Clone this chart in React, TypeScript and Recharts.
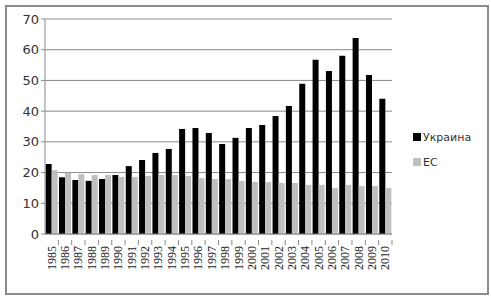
import { BarChart, Bar, XAxis, YAxis, CartesianGrid, Legend } from "recharts";

const years = [
  "1985", "1986", "1987", "1988", "1989", "1990", "1991", "1992", "1993",
  "1994", "1995", "1996", "1997", "1998", "1999", "2000", "2001", "2002",
  "2003", "2004", "2005", "2006", "2007", "2008", "2009", "2010",
];
const ukraine = [
  22.8, 18.5, 17.6, 17.3, 17.9, 19.2, 22.1, 24.1, 26.4, 27.7, 34.2, 34.5, 32.9,
  29.3, 31.3, 34.5, 35.5, 38.4, 41.7, 48.9, 56.7, 53.1, 58.0, 63.8, 51.8, 44.0,
];
const eu = [
  20.8, 19.9, 19.5, 19.2, 19.2, 18.6, 18.6, 18.9, 19.2, 19.2, 18.9, 18.2, 17.9,
  17.9, 17.3, 16.9, 16.9, 16.6, 16.6, 16.0, 16.0, 15.0, 16.0, 15.6, 15.6, 15.0,
];
const yTicks = [0, 10, 20, 30, 40, 50, 60, 70];

const data = years.map((y, i) => ({ year: y, ua: ukraine[i], eu: eu[i] }));

// rotated year label plus a small tick mark on the category boundary
const YearTick = (props: any) => {
  const { x, y, payload } = props;
  const half = payload?.offset ?? 6.7;
  return (
    <g>
      <line x1={x + half} x2={x + half} y1={y - 2} y2={y + 3} stroke="#8a8a8a" />
      <text
        x={x + 4}
        y={y + 4}
        transform={`rotate(-90 ${x + 4} ${y + 4})`}
        textAnchor="end"
        fontFamily="Liberation Serif"
        fontSize={12}
        fill="#222"
      >
        {payload.value}
      </text>
    </g>
  );
};

const LegendBox = () => (
  <div style={{ fontFamily: "DejaVu Sans", fontSize: 11, color: "#333" }}>
    <div style={{ display: "flex", alignItems: "center", height: 14 }}>
      <span style={{ width: 8, height: 8, background: "#000", marginRight: 2 }} />
      Украина
    </div>
    <div style={{ display: "flex", alignItems: "center", height: 14, marginTop: 11 }}>
      <span style={{ width: 8, height: 8, background: "#bfbfbf", marginRight: 2 }} />
      ЕС
    </div>
  </div>
);

export default function App() {
  return (
    <div style={{ position: "absolute", left: 0, top: 0, width: 491, height: 298, background: "#fff" }}>
      <div
        style={{
          position: "absolute",
          left: 5,
          top: 5,
          width: 480,
          height: 286,
          border: "2px solid #8c8c8c",
          boxSizing: "content-box",
        }}
      />
      <BarChart
        width={491}
        height={298}
        data={data}
        margin={{ top: 19, right: 21, left: 0, bottom: 0 }}
        barCategoryGap="5%"
        barGap={0}
      >
        <CartesianGrid vertical={false} stroke="#8a8a8a" strokeWidth={1} />
        <XAxis
          dataKey="year"
          height={64}
          interval={0}
          tick={<YearTick />}
          axisLine={{ stroke: "#8a8a8a" }}
          tickLine={false}
        />
        <YAxis
          width={45}
          domain={[0, 70]}
          ticks={yTicks}
          interval={0}
          tick={{ fontFamily: "DejaVu Sans", fontSize: 13, fill: "#333" }}
          axisLine={{ stroke: "#8a8a8a" }}
          tickLine={{ stroke: "#8a8a8a" }}
          tickSize={4}
        />
        <Legend
          layout="vertical"
          align="right"
          verticalAlign="middle"
          width={78}
          content={<LegendBox />}
          wrapperStyle={{ position: "absolute", left: 413, top: 130, width: 78 }}
        />
        <Bar dataKey="ua" name="Украина" fill="#000" isAnimationActive={false} />
        <Bar dataKey="eu" name="ЕС" fill="#bfbfbf" isAnimationActive={false} />
      </BarChart>
    </div>
  );
}
